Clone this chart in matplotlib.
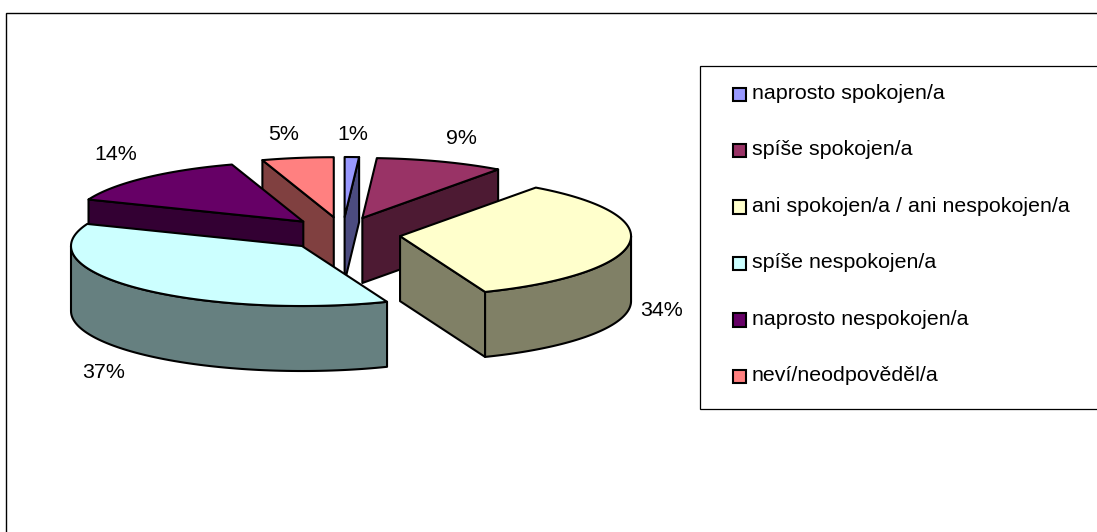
#!/usr/bin/env python3
# -*- coding: utf-8 -*-
"""Exploded 3D-look pie chart with a legend box, drawn with plain polygons."""

import numpy as np
import matplotlib
matplotlib.use("Agg")
import matplotlib.pyplot as plt
from matplotlib.patches import Polygon, Rectangle

categories = [
    "naprosto spokojen/a",
    "spíše spokojen/a",
    "ani spokojen/a / ani nespokojen/a",
    "spíše nespokojen/a",
    "naprosto nespokojen/a",
    "neví/neodpověděl/a",
]
values = [1, 9, 34, 37, 14, 5]
value_labels = ["1%", "9%", "34%", "37%", "14%", "5%"]

top_colors = ["#9999FF", "#993366", "#FFFFCC", "#CCFFFF", "#660066", "#FF8080"]
wall_colors = ["#4C4C80", "#4D1A33", "#808066", "#668080", "#330033", "#804040"]

# layout, in pixels of the output picture
CX, CY = 342.8, 234.0
RX, RY = 231.0, 60.0
EXPLODE_X, EXPLODE_Y = 57.7, 17.0
WALL = 65.0
LABEL_POS = [(353, 134), (461, 138), (662, 311), (104, 373), (116, 154), (284, 134)]
DRAW_ORDER = [5, 0, 1, 4, 2, 3]

plt.rcParams["font.family"] = ["Liberation Sans", "DejaVu Sans"]
FONT_SIZE = 15.4


def rim(apex, a_deg):
    """Point on the top ellipse, angle clockwise from twelve o'clock."""
    a = np.radians(a_deg)
    return np.column_stack([apex[0] + RX * np.sin(a), apex[1] - RY * np.cos(a)])


def add_poly(ax, pts, color):
    ax.add_patch(Polygon(pts, closed=True, facecolor=color, edgecolor="black",
                         linewidth=1.5, joinstyle="round"))


def draw_slice(ax, start, end, top_color, wall_color):
    mid = np.radians((start + end) / 2)
    apex = np.array([CX + EXPLODE_X * np.sin(mid), CY - EXPLODE_Y * np.cos(mid)])
    drop = np.array([0, WALL])

    # radial walls that face the viewer
    if np.sin(np.radians(start)) < 0:
        p = rim(apex, np.array([start]))[0]
        add_poly(ax, [apex, p, p + drop, apex + drop], wall_color)
    if np.sin(np.radians(end)) > 1e-6:
        p = rim(apex, np.array([end]))[0]
        add_poly(ax, [apex, p, p + drop, apex + drop], wall_color)

    # outer wall, only the part on the front of the ellipse
    lo, hi = max(start, 90), min(end, 270)
    if hi > lo:
        arc = rim(apex, np.linspace(lo, hi, 80))
        add_poly(ax, np.vstack([arc, (arc + drop)[::-1]]), wall_color)

    # top face
    arc = rim(apex, np.linspace(start, end, 120))
    add_poly(ax, np.vstack([[apex], arc]), top_color)


def main():
    fig = plt.figure(figsize=(10.97, 5.32), dpi=100)
    ax = fig.add_axes([0, 0, 1, 1])
    ax.set_xlim(0, 1097)
    ax.set_ylim(532, 0)
    ax.axis("off")

    # outer chart frame, runs off the right and bottom edge
    ax.add_patch(Rectangle((6, 13), 1200, 600, facecolor="white",
                           edgecolor="black", linewidth=1.0))

    edges = np.concatenate([[0], np.cumsum(values)]) / np.sum(values) * 360
    for i in DRAW_ORDER:
        draw_slice(ax, edges[i], edges[i + 1], top_colors[i], wall_colors[i])

    for (x, y), text in zip(LABEL_POS, value_labels):
        ax.text(x, y, text, ha="center", va="center", fontsize=FONT_SIZE, color="black")

    # legend box
    ax.add_patch(Rectangle((700, 65.5), 500, 343.5, facecolor="white",
                           edgecolor="black", linewidth=0.9))
    for i, name in enumerate(categories):
        y = 94 + i * 56.4
        ax.add_patch(Rectangle((732.5, y - 6.5), 13.5, 13.5, facecolor=top_colors[i],
                               edgecolor="black", linewidth=1.5))
        ax.text(752, y + 5, name, ha="left", va="baseline", fontsize=FONT_SIZE, color="black")

    fig.savefig("out.png", dpi=100, facecolor="white")


if __name__ == "__main__":
    main()
